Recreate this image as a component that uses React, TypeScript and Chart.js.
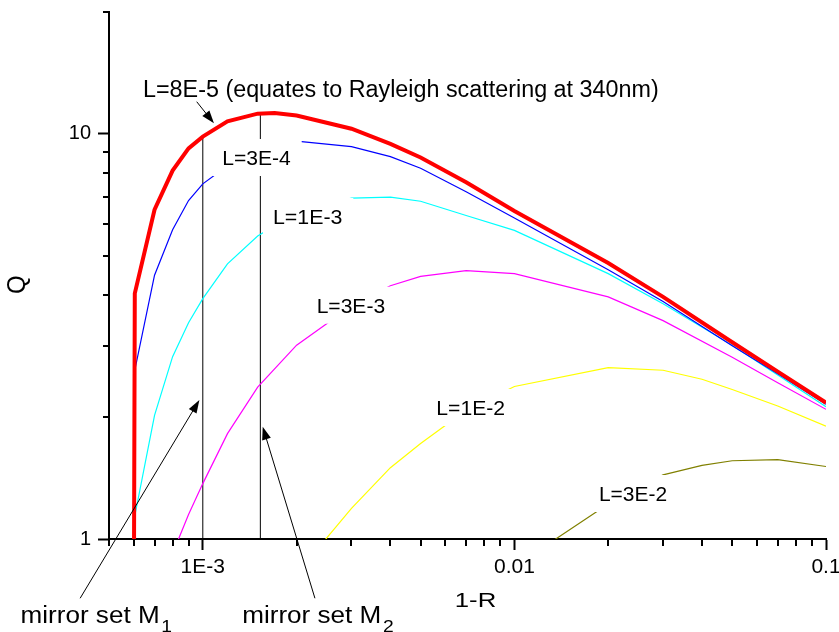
import React, { useEffect, useRef } from 'react';
import { Chart, registerables } from 'chart.js';

Chart.register(...registerables);

// ---------------- data (1-R on x, Q on y) ----------------
const SERIES_NAMES = ['L=8E-5', 'L=3E-4', 'L=1E-3', 'L=3E-3', 'L=1E-2', 'L=3E-2'];
const SERIES_COLORS = ['#ff0000', '#0000ff', '#00ffff', '#ff00ff', '#ffff00', '#808000'];

const X_L8E5 = [6e-4, 6.05e-4, 7e-4, 8e-4, 9e-4, 1e-3, 1.2e-3, 1.5e-3, 1.7e-3, 2e-3, 3e-3, 4e-3, 5e-3, 7e-3, 0.01, 0.02, 0.03, 0.05, 0.07, 0.1];
const Q_L8E5 = [0.5, 4.04, 6.5, 8.12, 9.21, 9.85, 10.74, 11.22, 11.27, 11.1, 10.3, 9.45, 8.75, 7.6, 6.45, 4.8, 3.96, 3.06, 2.59, 2.17];

const X_L3E4 = [6e-4, 6.05e-4, 7e-4, 8e-4, 9e-4, 1e-3, 1.2e-3, 1.5e-3, 2e-3, 3e-3, 4e-3, 5e-3, 7e-3, 0.01, 0.02, 0.03, 0.05, 0.07, 0.1];
const Q_L3E4 = [0.5, 2.61, 4.48, 5.8, 6.85, 7.53, 8.35, 9.1, 9.6, 9.3, 8.79, 8.23, 7.2, 6.2, 4.62, 3.86, 3.0, 2.56, 2.15];

const X_L1E3 = [6e-4, 6.05e-4, 7e-4, 8e-4, 9e-4, 1e-3, 1.2e-3, 1.5e-3, 2e-3, 3e-3, 4e-3, 5e-3, 7e-3, 0.01, 0.02, 0.03, 0.05, 0.07, 0.1];
const Q_L1E3 = [0.5, 1.14, 2.02, 2.82, 3.42, 3.92, 4.78, 5.6, 6.4, 6.94, 6.98, 6.82, 6.29, 5.78, 4.52, 3.81, 3.01, 2.54, 2.12];

const X_L3E3 = [8e-4, 9e-4, 1e-3, 1.2e-3, 1.5e-3, 2e-3, 3e-3, 4e-3, 5e-3, 7e-3, 0.01, 0.02, 0.03, 0.05, 0.07, 0.1];
const Q_L3E3 = [0.92, 1.15, 1.37, 1.82, 2.37, 3.01, 3.76, 4.22, 4.45, 4.6, 4.52, 3.96, 3.46, 2.81, 2.43, 2.09];

const X_L1E2 = [2e-3, 3e-3, 4e-3, 5e-3, 7e-3, 0.01, 0.02, 0.03, 0.04, 0.05, 0.07, 0.1];
const Q_L1E2 = [0.82, 1.19, 1.5, 1.72, 2.08, 2.38, 2.65, 2.61, 2.48, 2.34, 2.13, 1.9];

const X_L3E2 = [0.01, 0.02, 0.03, 0.04, 0.05, 0.07, 0.1];
const Q_L3E2 = [0.855, 1.22, 1.44, 1.52, 1.56, 1.57, 1.51];

// mirror sets: 1-R position and the Q of the L=8E-5 curve there
const MIRROR_X = [1e-3, 1.53e-3];
const MIRROR_TOP = [9.85, 11.27];
const MIRROR_NAMES = ['mirror set M', 'mirror set M'];
const MIRROR_SUBS = ['1', '2'];

// axis ticks
const X_MAJOR = [1e-3, 0.01, 0.1];
const X_MAJOR_LABELS = ['1E-3', '0.01', '0.1'];
const X_MINOR = [5e-4, 6e-4, 7e-4, 8e-4, 9e-4, 2e-3, 3e-3, 4e-3, 5e-3, 6e-3, 7e-3, 8e-3, 9e-3, 0.02, 0.03, 0.04, 0.05, 0.06, 0.07, 0.08, 0.09];
const Y_MAJOR = [1, 10];
const Y_MAJOR_LABELS = ['1', '10'];
const Y_MINOR = [2, 3, 4, 5, 6, 7, 8, 9, 20];

const X_TITLE = '1-R';
const Y_TITLE = 'Q';
const BIG_LABEL = 'L=8E-5 (equates to Rayleigh scattering at 340nm)';

// ---------------- layout / style (not data) ----------------
const FONT = '"Liberation Sans", Arial, Helvetica, sans-serif';
const W = 839;
const H = 632;

// text ink boxes: [left, right, baseline, fontSize]
const CURVE_LABEL_POS: Array<[number, number, number, number]> = [
  [0, 0, 0, 0], // L=8E-5 drawn separately
  [223.3, 290.7, 165, 20],
  [274, 342.3, 224, 20],
  [317.7, 385, 312.7, 20],
  [437.3, 505, 415, 20],
  [600, 667, 501, 20],
];
const BIG_LABEL_POS: [number, number, number, number] = [144, 658, 97.3, 23];
const MIRROR_LABEL_POS: Array<[number, number, number, number]> = [
  [21.7, 158.3, 623.3, 23],
  [243.3, 380, 623.3, 23],
];
const X_TITLE_POS: [number, number, number, number] = [456, 496, 606.7, 21];

// arrows in data coordinates [x0, y0, x1(tip), y1(tip)]
const ARROWS: Array<[number, number, number, number]> = [
  [9.56e-4, 12.01, 1.086e-3, 10.62],
  [4.04e-4, 0.714, 9.75e-4, 2.203],
  [2.29e-3, 0.714, 1.557e-3, 1.893],
];

const pts = (xs: number[], ys: number[]) => xs.map((x, i) => ({ x, y: ys[i] }));

function fitText(ctx: CanvasRenderingContext2D, text: string, left: number, right: number, baseline: number, size: number) {
  ctx.font = `${size}px ${FONT}`;
  ctx.textAlign = 'left';
  ctx.textBaseline = 'alphabetic';
  const m = ctx.measureText(text);
  const w = m.actualBoundingBoxLeft + m.actualBoundingBoxRight;
  const sx = w > 0 ? (right - left) / w : 1;
  ctx.save();
  ctx.translate(left, baseline);
  ctx.scale(sx, 1);
  ctx.fillText(text, m.actualBoundingBoxLeft, 0);
  ctx.restore();
  return { sx, ascent: m.actualBoundingBoxAscent };
}

function drawArrow(ctx: CanvasRenderingContext2D, x0: number, y0: number, x1: number, y1: number) {
  const len = 13;
  const half = 4.5;
  const a = Math.atan2(y1 - y0, x1 - x0);
  const c = Math.cos(a);
  const s = Math.sin(a);
  ctx.beginPath();
  ctx.moveTo(x0, y0);
  ctx.lineTo(x1 - c * len * 0.7, y1 - s * len * 0.7);
  ctx.stroke();
  ctx.beginPath();
  ctx.moveTo(x1, y1);
  ctx.lineTo(x1 - c * len + s * half, y1 - s * len - c * half);
  ctx.lineTo(x1 - c * len - s * half, y1 - s * len + c * half);
  ctx.closePath();
  ctx.fill();
}

const overlayPlugin = {
  id: 'overlay',
  afterDatasetsDraw(chart: any) {
    const ctx: CanvasRenderingContext2D = chart.ctx;
    ctx.save();
    for (let i = 1; i < SERIES_NAMES.length; i++) {
      const [l, r, b, size] = CURVE_LABEL_POS[i];
      ctx.font = `${size}px ${FONT}`;
      ctx.textAlign = 'left';
      const m = ctx.measureText(SERIES_NAMES[i]);
      const asc = m.actualBoundingBoxAscent;
      ctx.fillStyle = '#ffffff';
      ctx.fillRect(l - 11, b - asc - 12, r - l + 22, asc + 23);
      ctx.fillStyle = '#000000';
      fitText(ctx, SERIES_NAMES[i], l, r, b, size);
    }
    ctx.restore();
  },
  afterDraw(chart: any) {
    const ctx: CanvasRenderingContext2D = chart.ctx;
    const xs = chart.scales.x;
    const ys = chart.scales.y;
    const area = chart.chartArea;
    ctx.save();
    // minor ticks
    ctx.strokeStyle = '#000';
    ctx.lineWidth = 2;
    ctx.beginPath();
    for (const v of X_MINOR) {
      const px = Math.round(xs.getPixelForValue(v));
      ctx.moveTo(px, area.bottom);
      ctx.lineTo(px, area.bottom + 7);
    }
    for (const v of Y_MINOR) {
      const py = Math.round(ys.getPixelForValue(v));
      ctx.moveTo(area.left - 6, py);
      ctx.lineTo(area.left, py);
    }
    ctx.stroke();

    ctx.fillStyle = '#000';
    // big curve label
    fitText(ctx, BIG_LABEL, BIG_LABEL_POS[0], BIG_LABEL_POS[1], BIG_LABEL_POS[2], BIG_LABEL_POS[3]);
    // mirror labels with subscripts
    for (let i = 0; i < MIRROR_NAMES.length; i++) {
      const [l, r, b, size] = MIRROR_LABEL_POS[i];
      const { sx } = fitText(ctx, MIRROR_NAMES[i], l, r, b, size);
      ctx.save();
      ctx.font = `${Math.round(size * 0.72)}px ${FONT}`;
      ctx.textAlign = 'left';
      ctx.translate(r + 3, b + 8.5);
      ctx.scale(sx, 1);
      ctx.fillText(MIRROR_SUBS[i], 0, 0);
      ctx.restore();
    }
    // axis titles
    fitText(ctx, X_TITLE, X_TITLE_POS[0], X_TITLE_POS[1], X_TITLE_POS[2], X_TITLE_POS[3]);
    ctx.save();
    ctx.font = `24px ${FONT}`;
    ctx.textAlign = 'center';
    ctx.textBaseline = 'alphabetic';
    const qm = ctx.measureText(Y_TITLE);
    ctx.translate(18.8, 284.7);
    ctx.scale(1.1, 1);
    ctx.rotate(-Math.PI / 2);
    ctx.fillText(Y_TITLE, 0, (qm.actualBoundingBoxAscent - qm.actualBoundingBoxDescent) / 2);
    ctx.restore();

    // arrows
    ctx.lineWidth = 1;
    ctx.strokeStyle = '#000';
    ctx.fillStyle = '#000';
    for (const [x0, y0, x1, y1] of ARROWS) {
      drawArrow(ctx, xs.getPixelForValue(x0), ys.getPixelForValue(y0), xs.getPixelForValue(x1), ys.getPixelForValue(y1));
    }
    ctx.restore();
  },
};

export default function App() {
  const ref = useRef<HTMLCanvasElement | null>(null);

  useEffect(() => {
    if (!ref.current) return;
    const seriesX = [X_L8E5, X_L3E4, X_L1E3, X_L3E3, X_L1E2, X_L3E2];
    const seriesQ = [Q_L8E5, Q_L3E4, Q_L1E3, Q_L3E3, Q_L1E2, Q_L3E2];
    const datasets: any[] = SERIES_NAMES.map((name, i) => ({
      label: name,
      data: pts(seriesX[i], seriesQ[i]),
      borderColor: SERIES_COLORS[i],
      backgroundColor: SERIES_COLORS[i],
      borderWidth: i === 0 ? 4 : 1.2,
      pointRadius: 0,
      tension: 0,
      fill: false,
      clip: 0,
      order: i,
    }));
    MIRROR_X.forEach((mx, i) => {
      datasets.push({
        label: MIRROR_NAMES[i] + MIRROR_SUBS[i],
        data: [{ x: mx, y: 1 }, { x: mx, y: MIRROR_TOP[i] }],
        borderColor: '#000000',
        borderWidth: 1,
        pointRadius: 0,
        tension: 0,
        fill: false,
        clip: 0,
        order: 10 + i,
      });
    });

    const chart = new Chart(ref.current, {
      type: 'line',
      data: { datasets },
      options: {
        responsive: false,
        animation: false,
        devicePixelRatio: 1,
        events: [],
        layout: { padding: { top: 12, right: 13, left: 0, bottom: 0 } },
        plugins: {
          legend: { display: false },
          tooltip: { enabled: false },
          title: { display: false },
        },
        scales: {
          x: {
            type: 'logarithmic',
            position: 'bottom',
            min: 5e-4,
            max: 0.1,
            afterBuildTicks: (s: any) => {
              s.ticks = X_MAJOR.map((v) => ({ value: v }));
            },
            afterFit: (s: any) => {
              s.height = H - 539;
              s.paddingLeft = 0;
              s.paddingRight = 0;
            },
            grid: { display: true, drawOnChartArea: false, drawTicks: true, tickLength: 11, tickWidth: 2, tickColor: '#000' },
            border: { display: true, color: '#000', width: 2 },
            ticks: {
              autoSkip: false,
              maxRotation: 0,
              minRotation: 0,
              padding: 5,
              color: '#000',
              font: { family: FONT, size: 21 },
              callback: (_v: any, i: number) => X_MAJOR_LABELS[i],
            },
          },
          y: {
            type: 'logarithmic',
            position: 'left',
            min: 1,
            max: 20,
            afterBuildTicks: (s: any) => {
              s.ticks = Y_MAJOR.map((v) => ({ value: v }));
            },
            afterFit: (s: any) => {
              s.width = 109;
              s.paddingTop = 0;
              s.paddingBottom = 0;
            },
            grid: { display: true, drawOnChartArea: false, drawTicks: true, tickLength: 11, tickWidth: 2, tickColor: '#000' },
            border: { display: true, color: '#000', width: 2 },
            ticks: {
              autoSkip: false,
              padding: 7,
              color: '#000',
              font: { family: FONT, size: 20 },
              callback: (_v: any, i: number) => Y_MAJOR_LABELS[i],
            },
          },
        },
      } as any,
      plugins: [overlayPlugin],
    });
    return () => chart.destroy();
  }, []);

  return (
    <div style={{ position: 'absolute', left: 0, top: 0, width: W, height: H, background: '#fff' }}>
      <canvas ref={ref} width={W} height={H} style={{ display: 'block' }} />
    </div>
  );
}
